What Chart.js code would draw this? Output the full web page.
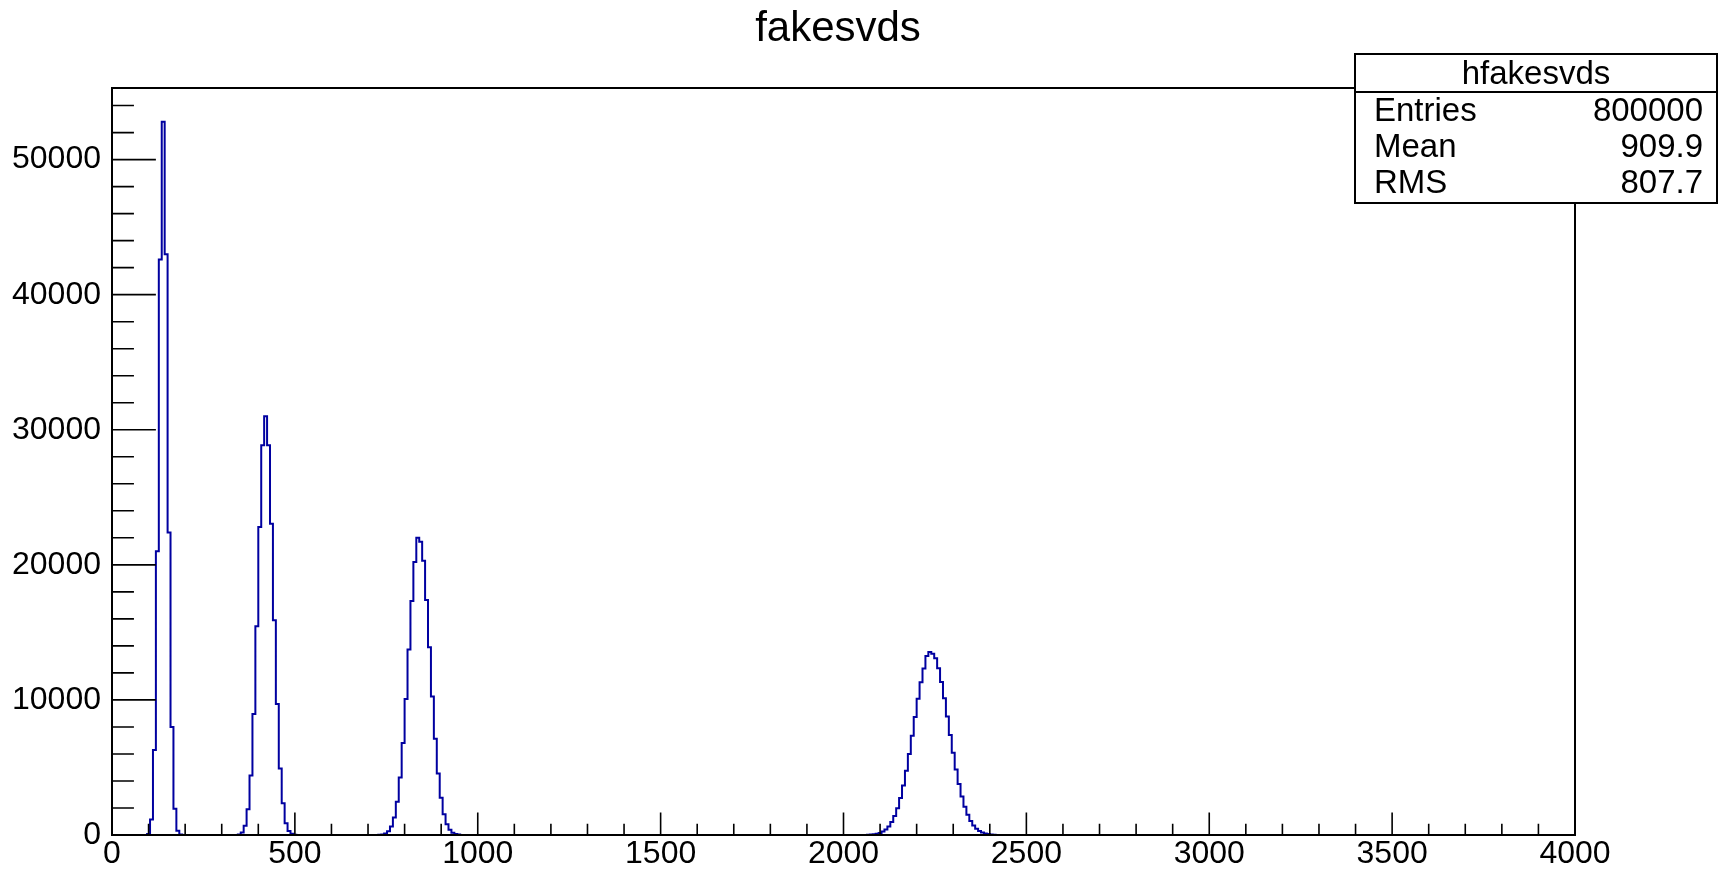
<!DOCTYPE html>
<html lang="en">
<head>
<meta charset="UTF-8">
<title>fakesvds</title>
<style>
  body { margin: 0; background: #fff; }
  #wrap { width: 1719px; height: 869px; }
</style>
</head>
<body>
<div id="wrap"><canvas id="hist" width="1719" height="869"></canvas></div>
<script src="https://cdn.jsdelivr.net/npm/chart.js"></script>
<script>
// hfakesvds: 500 bins of width 8 between 0 and 4000
const binWidth = 8;
const xMin = 0;
const xMax = 4000;
const yMax = 55300;

// each peak: low edge of its first bin, then the bin contents
const peak1Start = 96;
const peak1Counts = [80, 1150, 6300, 21000, 42600, 52800, 43000, 22400, 8000, 1950, 310, 40];

const peak2Start = 344;
const peak2Counts = [40, 190, 680, 1900, 4400, 8950, 15450, 22800, 28850, 31000,
  28850, 23050, 15900, 9700, 4930, 2350, 870, 300, 90, 25];

const peak3Start = 728;
const peak3Counts = [15, 43, 116, 284, 635, 1302, 2453, 4256, 6815, 10070, 13740, 17320, 20210, 22000,
  21700, 20300, 17390, 13900, 10250, 7120, 4560, 2760, 1530, 800, 385, 171, 71, 28];

const peak4Start = 2064;
const peak4Counts = [15, 29, 52, 91, 155, 255, 409, 635, 956, 1399, 1986, 2736, 3660, 4755, 5996,
  7340, 8730, 10083, 11314, 12333, 13250, 13550, 13420, 13080, 12338, 11331, 10115, 8779, 7409,
  6082, 4854, 3769, 2846, 2091, 1495, 1040, 703, 464, 297, 185, 112, 66, 38, 20];

const xTicks = [0, 500, 1000, 1500, 2000, 2500, 3000, 3500, 4000];
const yTicks = [0, 10000, 20000, 30000, 40000, 50000];
const xMinorStep = 100;
const yMinorStep = 2000;

const histTitle = 'fakesvds';
const statsTitle = 'hfakesvds';
const statsNames = ['Entries', 'Mean', 'RMS'];
const statsValues = ['800000', '909.9', '807.7'];

// fill the full bin array, empty bins stay at zero
const nBins = (xMax - xMin) / binWidth;
const counts = new Array(nBins).fill(0);
[[peak1Start, peak1Counts], [peak2Start, peak2Counts], [peak3Start, peak3Counts], [peak4Start, peak4Counts]]
  .forEach(([start, vals]) => {
    const first = (start - xMin) / binWidth;
    vals.forEach((v, i) => { counts[first + i] = v; });
  });
// one point per low bin edge, stepped line holds the value across the bin
const points = counts.map((c, i) => ({ x: xMin + i * binWidth, y: c }));
points.push({ x: xMax, y: 0 });

const FONT = '"Liberation Sans", Arial, sans-serif';

// frame, inward ticks, title and stats box in ROOT style
const rootFrame = {
  id: 'rootFrame',
  afterDatasetsDraw(chart) {
    const { ctx, chartArea: a, scales: { x, y } } = chart;
    ctx.save();
    ctx.strokeStyle = '#000';
    ctx.lineWidth = 2;
    ctx.strokeRect(a.left, a.top, a.right - a.left, a.bottom - a.top);

    const xLen = 0.03 * (a.bottom - a.top);
    const yLen = 0.03 * (a.right - a.left);
    ctx.lineWidth = 1.6;
    ctx.beginPath();
    for (let v = xMin; v <= xMax; v += xMinorStep) {
      const px = x.getPixelForValue(v);
      const len = xTicks.includes(v) ? xLen : xLen / 2;
      ctx.moveTo(px, a.bottom);
      ctx.lineTo(px, a.bottom - len);
    }
    for (let v = 0; v <= yMax; v += yMinorStep) {
      const py = y.getPixelForValue(v);
      const len = yTicks.includes(v) ? yLen : yLen / 2;
      ctx.moveTo(a.left, py);
      ctx.lineTo(a.left + len, py);
    }
    ctx.stroke();
    ctx.restore();
  },
  afterDraw(chart) {
    const ctx = chart.ctx;
    ctx.save();
    ctx.fillStyle = '#000';
    ctx.font = '42px ' + FONT;
    ctx.textAlign = 'center';
    ctx.textBaseline = 'alphabetic';
    ctx.fillText(histTitle, 838, 41);

    // stats box
    const bx = 1355, by = 54, bw = 362, bh = 149;
    ctx.fillStyle = '#fff';
    ctx.fillRect(bx, by, bw, bh);
    ctx.strokeStyle = '#000';
    ctx.lineWidth = 2;
    ctx.strokeRect(bx, by, bw, bh);
    ctx.beginPath();
    ctx.moveTo(bx, 92);
    ctx.lineTo(bx + bw, 92);
    ctx.stroke();

    ctx.fillStyle = '#000';
    ctx.font = '33px ' + FONT;
    ctx.textAlign = 'center';
    ctx.fillText(statsTitle, bx + bw / 2, 84);
    const rows = [121, 157, 193];
    statsNames.forEach((name, i) => {
      ctx.textAlign = 'left';
      ctx.fillText(name, 1374, rows[i]);
      ctx.textAlign = 'right';
      ctx.fillText(statsValues[i], 1703, rows[i]);
    });
    ctx.restore();
  }
};

new Chart(document.getElementById('hist'), {
  type: 'line',
  data: {
    datasets: [{
      label: statsTitle,
      data: points,
      stepped: true,
      borderColor: '#0000a0',
      borderWidth: 2,
      pointRadius: 0,
      fill: false
    }]
  },
  options: {
    responsive: false,
    animation: false,
    events: [],
    layout: { padding: { top: 88, right: 144, left: 0, bottom: 0 } },
    plugins: {
      legend: { display: false },
      tooltip: { enabled: false },
      title: { display: false }
    },
    scales: {
      x: {
        type: 'linear',
        min: xMin,
        max: xMax,
        grid: { display: false, drawTicks: false },
        border: { display: false },
        afterBuildTicks: s => { s.ticks = xTicks.map(v => ({ value: v })); },
        afterFit: s => { s.height = 34; },
        ticks: {
          autoSkip: false,
          maxRotation: 0,
          padding: 0,
          color: '#000',
          font: { family: FONT, size: 32 },
          callback: v => String(v)
        }
      },
      y: {
        min: 0,
        max: yMax,
        grid: { display: false, drawTicks: false },
        border: { display: false },
        afterBuildTicks: s => { s.ticks = yTicks.map(v => ({ value: v })); },
        afterFit: s => { s.width = 112; },
        ticks: {
          autoSkip: false,
          padding: 11,
          color: '#000',
          font: { family: FONT, size: 32 },
          callback: v => String(v)
        }
      }
    }
  },
  plugins: [rootFrame]
});
</script>
</body>
</html>
